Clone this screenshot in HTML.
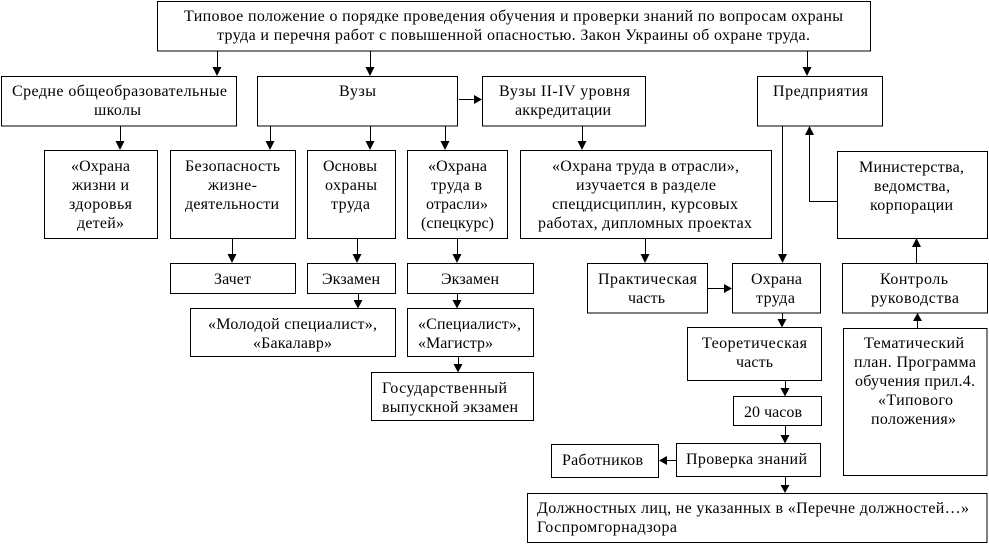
<!DOCTYPE html>
<html lang="ru">
<head>
<meta charset="utf-8">
<title>Схема</title>
<style>
html,body{margin:0;padding:0;background:#fff;width:989px;height:544px;overflow:hidden}
svg{display:block}
rect{fill:#fff;stroke:#000;stroke-width:1}
.l{fill:none;stroke:#000;stroke-width:1}
polygon{fill:#000}
text{font-family:"Liberation Serif","Noto Serif CJK SC",serif;font-size:16px;fill:#000}
</style>
</head>
<body>
<svg width="989" height="544" viewBox="0 0 989 544" xmlns="http://www.w3.org/2000/svg">
<!-- connectors -->
<path class="l" d="M217.5 51V70M370.5 51V70M807.5 51V70M120.5 126V144M270.5 126V144M370.5 126V144M445.5 126V144M582.5 126V144M459 99.5H476M782.5 126V257M837 201.5H809.5V132M916.5 263V244M232.5 238V257M357.5 238V257M457.5 238V257M645.5 238V257M707 288.5H726M358.5 293V302M457.5 293V302M458.5 356V366M782.5 313V321M785.5 380V390M785.5 425V437M676 460.5H665M785.5 476V487M917.5 328V319"/>
<!-- arrowheads -->
<polygon points="212.5,67 221.5,67 217,76"/>
<polygon points="365.5,67 374.5,67 370,76"/>
<polygon points="802.5,67 811.5,67 807,76"/>
<polygon points="115.5,141 124.5,141 120,150"/>
<polygon points="265.5,141 274.5,141 270,150"/>
<polygon points="365.5,141 374.5,141 370,150"/>
<polygon points="440.5,141 449.5,141 445,150"/>
<polygon points="577.5,141 586.5,141 582,150"/>
<polygon points="474,95 474,104 482,99.5"/>
<polygon points="778,254 787,254 782.5,263"/>
<polygon points="805,135 814,135 809.5,126"/>
<polygon points="912,247 921,247 916.5,238"/>
<polygon points="227.5,254 236.5,254 232,263"/>
<polygon points="352.5,254 361.5,254 357,263"/>
<polygon points="452.5,254 461.5,254 457,263"/>
<polygon points="640.5,254 649.5,254 645,263"/>
<polygon points="724,284 724,293 732,288.5"/>
<polygon points="353.5,300 362.5,300 358,308.5"/>
<polygon points="452.5,300 461.5,300 457,308.5"/>
<polygon points="453.5,364 462.5,364 458,372.5"/>
<polygon points="777.5,319 786.5,319 782,327.5"/>
<polygon points="780.5,388 789.5,388 785,396.5"/>
<polygon points="780.5,435 789.5,435 785,443.5"/>
<polygon points="667,456 667,465 659,460.5"/>
<polygon points="780.5,485 789.5,485 785,493"/>
<polygon points="913,321 922,321 917.5,313"/>
<!-- boxes -->
<rect x="157.5" y="1.5" width="713" height="49.5"/>
<rect x="1.5" y="76.5" width="235" height="49.5"/>
<rect x="257.5" y="76.5" width="200" height="49.5"/>
<rect x="482.5" y="76.5" width="163" height="49.5"/>
<rect x="757.5" y="76.5" width="125" height="49.5"/>
<rect x="44.5" y="150.5" width="113" height="88"/>
<rect x="170.5" y="150.5" width="125" height="88"/>
<rect x="307.5" y="150.5" width="88" height="88"/>
<rect x="407.5" y="150.5" width="100" height="88"/>
<rect x="520.5" y="150.5" width="251" height="88"/>
<rect x="837.5" y="151.5" width="150" height="87"/>
<rect x="170.5" y="263.5" width="125" height="30"/>
<rect x="307.5" y="263.5" width="88" height="30"/>
<rect x="407.5" y="263.5" width="126" height="30"/>
<rect x="587.5" y="263.5" width="120" height="49.5"/>
<rect x="732.5" y="263.5" width="88" height="49.5"/>
<rect x="842.5" y="263.5" width="145" height="49.5"/>
<rect x="190.5" y="308.5" width="205" height="48"/>
<rect x="407.5" y="308.5" width="126" height="48"/>
<rect x="371.5" y="372.5" width="162" height="48"/>
<rect x="687.5" y="327.5" width="134" height="53"/>
<rect x="733.5" y="396.5" width="88" height="29"/>
<rect x="676.5" y="443.5" width="144" height="33"/>
<rect x="551.5" y="444.5" width="107" height="33"/>
<rect x="843.5" y="328.5" width="143.5" height="147"/>
<rect x="527.5" y="493.5" width="459.5" height="49"/>
<!-- labels -->
<text x="184" y="21" textLength="659" lengthAdjust="spacing">Типовое положение о порядке проведения обучения и проверки знаний по вопросам охраны</text>
<text x="217" y="40" textLength="593" lengthAdjust="spacing">труда и перечня работ с повышенной опасностью. Закон Украины об охране труда.</text>
<text x="12" y="96" textLength="215" lengthAdjust="spacing">Средне общеобразовательные</text>
<text x="94" y="115" textLength="47" lengthAdjust="spacing">школы</text>
<text x="339" y="96" textLength="37" lengthAdjust="spacing">Вузы</text>
<text x="499" y="96" textLength="131" lengthAdjust="spacing">Вузы II-IV уровня</text>
<text x="515" y="115" textLength="96" lengthAdjust="spacing">аккредитации</text>
<text x="773" y="96" textLength="95" lengthAdjust="spacing">Предприятия</text>
<text x="71" y="171" textLength="59" lengthAdjust="spacing">«Охрана</text>
<text x="72" y="190" textLength="57" lengthAdjust="spacing">жизни и</text>
<text x="69" y="209" textLength="63" lengthAdjust="spacing">здоровья</text>
<text x="77" y="228" textLength="47" lengthAdjust="spacing">детей»</text>
<text x="185" y="171" textLength="95" lengthAdjust="spacing">Безопасность</text>
<text x="208" y="190" textLength="49" lengthAdjust="spacing">жизне-</text>
<text x="185" y="209" textLength="94" lengthAdjust="spacing">деятельности</text>
<text x="323" y="171" textLength="54" lengthAdjust="spacing">Основы</text>
<text x="325" y="190" textLength="52" lengthAdjust="spacing">охраны</text>
<text x="331" y="209" textLength="39" lengthAdjust="spacing">труда</text>
<text x="428" y="171" textLength="59" lengthAdjust="spacing">«Охрана</text>
<text x="431" y="190" textLength="51" lengthAdjust="spacing">труда в</text>
<text x="426" y="209" textLength="62" lengthAdjust="spacing">отрасли»</text>
<text x="421" y="228" textLength="73" lengthAdjust="spacing">(спецкурс)</text>
<text x="552" y="171" textLength="187" lengthAdjust="spacing">«Охрана труда в отрасли»,</text>
<text x="576" y="190" textLength="140" lengthAdjust="spacing">изучается в разделе</text>
<text x="552" y="209" textLength="186" lengthAdjust="spacing">спецдисциплин, курсовых</text>
<text x="538" y="228" textLength="214" lengthAdjust="spacing">работах, дипломных проектах</text>
<text x="859" y="172" textLength="105" lengthAdjust="spacing">Министерства,</text>
<text x="874" y="191" textLength="76" lengthAdjust="spacing">ведомства,</text>
<text x="870" y="210" textLength="83" lengthAdjust="spacing">корпорации</text>
<text x="214" y="284" textLength="37" lengthAdjust="spacing">Зачет</text>
<text x="322" y="284" textLength="58" lengthAdjust="spacing">Экзамен</text>
<text x="441" y="284" textLength="58" lengthAdjust="spacing">Экзамен</text>
<text x="598" y="284" textLength="99" lengthAdjust="spacing">Практическая</text>
<text x="628" y="303" textLength="37" lengthAdjust="spacing">часть</text>
<text x="751" y="284" textLength="51" lengthAdjust="spacing">Охрана</text>
<text x="756" y="303" textLength="39" lengthAdjust="spacing">труда</text>
<text x="880" y="284" textLength="68" lengthAdjust="spacing">Контроль</text>
<text x="871" y="303" textLength="88" lengthAdjust="spacing">руководства</text>
<text x="208" y="329" textLength="169" lengthAdjust="spacing">«Молодой специалист»,</text>
<text x="253" y="348" textLength="79" lengthAdjust="spacing">«Бакалавр»</text>
<text x="418" y="329" textLength="103" lengthAdjust="spacing">«Специалист»,</text>
<text x="418" y="348" textLength="75" lengthAdjust="spacing">«Магистр»</text>
<text x="382" y="393" textLength="125" lengthAdjust="spacing">Государственный</text>
<text x="382" y="412" textLength="136" lengthAdjust="spacing">выпускной экзамен</text>
<text x="702" y="348" textLength="105" lengthAdjust="spacing">Теоретическая</text>
<text x="736" y="367" textLength="37" lengthAdjust="spacing">часть</text>
<text x="744" y="417" textLength="58" lengthAdjust="spacing">20 часов</text>
<text x="686" y="464" textLength="121" lengthAdjust="spacing">Проверка знаний</text>
<text x="562" y="465" textLength="81" lengthAdjust="spacing">Работников</text>
<text x="864" y="348" textLength="100" lengthAdjust="spacing">Тематический</text>
<text x="854" y="367" textLength="122" lengthAdjust="spacing">план. Программа</text>
<text x="855" y="386" textLength="120" lengthAdjust="spacing">обучения прил.4.</text>
<text x="878" y="405" textLength="75" lengthAdjust="spacing">«Типового</text>
<text x="871" y="424" textLength="85" lengthAdjust="spacing">положения»</text>
<text x="537" y="513" textLength="432" lengthAdjust="spacing">Должностных лиц, не указанных в «Перечне должностей…»</text>
<text x="537" y="532" textLength="140" lengthAdjust="spacing">Госпромгорнадзора</text>
</svg>
</body>
</html>
